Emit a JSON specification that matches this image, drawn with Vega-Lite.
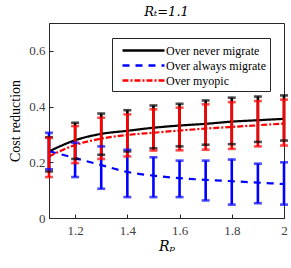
{
  "$schema": "https://vega.github.io/schema/vega-lite/v6.json",
  "autosize": "none",
  "width": 235,
  "height": 195,
  "padding": {"left": 49, "top": 23, "right": 7, "bottom": 50},
  "background": "white",
  "config": {
    "font": "Liberation Serif, DejaVu Serif, serif",
    "view": {"stroke": "#262626", "strokeWidth": 1},
    "axis": {"labelFont": "Liberation Serif, DejaVu Serif, serif", "titleFont": "Liberation Serif, DejaVu Serif, serif", "labelColor": "#404040", "titleColor": "#000", "domainColor": "#262626", "tickColor": "#262626", "grid": false, "labelFontSize": 13, "titleFontSize": 14}
  },
  "title": {"text": "Rₜ=1.1", "font": "DejaVu Serif", "fontStyle": "italic", "fontWeight": "normal", "fontSize": 13, "offset": 4, "color": "#000"},
  "datasets": {
    "pts": [
      {"x": 1.1, "series": "Over never migrate", "m": 0.239, "lo": 0.167, "hi": 0.29},
      {"x": 1.2, "series": "Over never migrate", "m": 0.279, "lo": 0.212, "hi": 0.342},
      {"x": 1.3, "series": "Over never migrate", "m": 0.302, "lo": 0.227, "hi": 0.375},
      {"x": 1.4, "series": "Over never migrate", "m": 0.313, "lo": 0.239, "hi": 0.387},
      {"x": 1.5, "series": "Over never migrate", "m": 0.324, "lo": 0.25, "hi": 0.404},
      {"x": 1.6, "series": "Over never migrate", "m": 0.332, "lo": 0.257, "hi": 0.41},
      {"x": 1.7, "series": "Over never migrate", "m": 0.338, "lo": 0.263, "hi": 0.422},
      {"x": 1.8, "series": "Over never migrate", "m": 0.346, "lo": 0.265, "hi": 0.432},
      {"x": 1.9, "series": "Over never migrate", "m": 0.351, "lo": 0.273, "hi": 0.436},
      {"x": 2.0, "series": "Over never migrate", "m": 0.356, "lo": 0.278, "hi": 0.44},
      {"x": 1.1, "series": "Over always migrate", "m": 0.24, "lo": 0.175, "hi": 0.306},
      {"x": 1.2, "series": "Over always migrate", "m": 0.215, "lo": 0.147, "hi": 0.27},
      {"x": 1.3, "series": "Over always migrate", "m": 0.19, "lo": 0.105, "hi": 0.257},
      {"x": 1.4, "series": "Over always migrate", "m": 0.165, "lo": 0.075, "hi": 0.245},
      {"x": 1.5, "series": "Over always migrate", "m": 0.152, "lo": 0.075, "hi": 0.218},
      {"x": 1.6, "series": "Over always migrate", "m": 0.143, "lo": 0.075, "hi": 0.206},
      {"x": 1.7, "series": "Over always migrate", "m": 0.137, "lo": 0.063, "hi": 0.206},
      {"x": 1.8, "series": "Over always migrate", "m": 0.132, "lo": 0.048, "hi": 0.21},
      {"x": 1.9, "series": "Over always migrate", "m": 0.127, "lo": 0.053, "hi": 0.195},
      {"x": 2.0, "series": "Over always migrate", "m": 0.122, "lo": 0.048, "hi": 0.2},
      {"x": 1.1, "series": "Over myopic", "m": 0.221, "lo": 0.147, "hi": 0.288},
      {"x": 1.2, "series": "Over myopic", "m": 0.262, "lo": 0.197, "hi": 0.33},
      {"x": 1.3, "series": "Over myopic", "m": 0.285, "lo": 0.212, "hi": 0.36},
      {"x": 1.4, "series": "Over myopic", "m": 0.298, "lo": 0.221, "hi": 0.372},
      {"x": 1.5, "series": "Over myopic", "m": 0.306, "lo": 0.242, "hi": 0.39},
      {"x": 1.6, "series": "Over myopic", "m": 0.314, "lo": 0.243, "hi": 0.396},
      {"x": 1.7, "series": "Over myopic", "m": 0.321, "lo": 0.245, "hi": 0.408},
      {"x": 1.8, "series": "Over myopic", "m": 0.327, "lo": 0.248, "hi": 0.416},
      {"x": 1.9, "series": "Over myopic", "m": 0.333, "lo": 0.257, "hi": 0.42},
      {"x": 2.0, "series": "Over myopic", "m": 0.339, "lo": 0.26, "hi": 0.425}
    ]
  },
  "data": {"name": "pts"},
  "encoding": {
    "x": {"field": "x", "type": "quantitative", "scale": {"domain": [1.1, 2.0], "nice": false, "zero": false},
      "axis": {"values": [1.2, 1.4, 1.6, 1.8, 2], "format": "~g", "title": "Rₚ", "titleFont": "DejaVu Serif", "titleFontStyle": "italic", "titleFontWeight": "normal", "titleFontSize": 14, "tickSize": -4, "labelPadding": 10, "titlePadding": 2, "labelFlush": false}}
  },
  "layer": [
    {
      "mark": {"type": "line", "strokeWidth": 2.2, "clip": true, "interpolate": "monotone"},
      "encoding": {
        "y": {"field": "m", "type": "quantitative", "scale": {"domain": [0, 0.7], "nice": false},
          "axis": {"values": [0, 0.1, 0.2, 0.3, 0.4, 0.5, 0.6], "format": "~g", "title": "Cost reduction", "titleFontWeight": "normal", "titleFontSize": 14, "tickSize": -4, "labelPadding": 8, "titlePadding": 6}},
        "color": {"field": "series", "type": "nominal",
          "scale": {"domain": ["Over never migrate", "Over always migrate", "Over myopic"], "range": ["#000000", "#0000ff", "#ff0000"]},
          "legend": {"title": null, "orient": "none", "legendX": 63, "legendY": 15, "fillColor": "white", "strokeColor": "#262626", "padding": 4, "symbolType": "M-1,0H5", "symbolSize": 196, "symbolStrokeWidth": 2.5, "symbolOffset": 5, "labelFont": "Liberation Serif, DejaVu Serif, serif", "labelFontSize": 12, "labelColor": "#000", "labelLimit": 200, "rowPadding": 0, "labelOffset": 28}},
        "strokeDash": {"field": "series", "type": "nominal",
          "scale": {"domain": ["Over never migrate", "Over always migrate", "Over myopic"], "range": [[1, 0], [7, 6], [6, 2, 2, 2]]}},
        "order": {"field": "x", "type": "quantitative"}
      }
    },
    {
      "mark": {"type": "rule", "strokeWidth": 2.6},
      "encoding": {
        "y": {"field": "lo", "type": "quantitative"},
        "y2": {"field": "hi"},
        "color": {"field": "series", "type": "nominal", "legend": null}
      }
    },
    {
      "mark": {"type": "tick", "orient": "horizontal", "size": 8, "thickness": 2.6},
      "encoding": {
        "y": {"field": "lo", "type": "quantitative"},
        "color": {"field": "series", "type": "nominal", "legend": null}
      }
    },
    {
      "mark": {"type": "tick", "orient": "horizontal", "size": 8, "thickness": 2.6},
      "encoding": {
        "y": {"field": "hi", "type": "quantitative"},
        "color": {"field": "series", "type": "nominal", "legend": null}
      }
    }
  ]
}
